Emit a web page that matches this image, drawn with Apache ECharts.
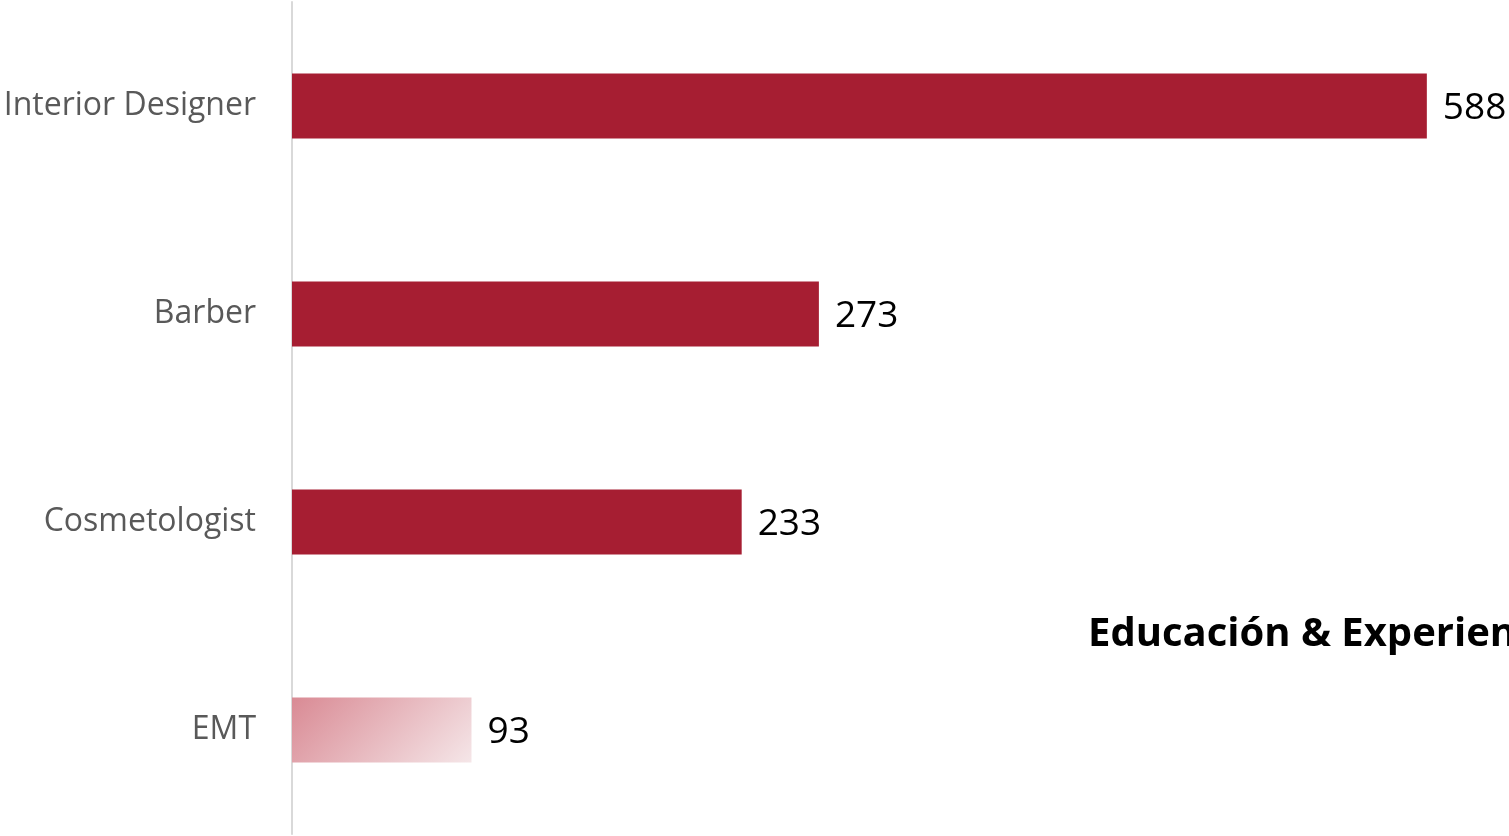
<!DOCTYPE html>
<html>
<head>
<meta charset="utf-8">
<script src="https://cdn.jsdelivr.net/npm/echarts@6/dist/echarts.min.js"></script>
<style>
html,body{margin:0;padding:0;background:#fff;}
#chart{width:1509px;height:836px;}
</style>
</head>
<body>
<div id="chart"></div>
<script>
const categories = ['Interior Designer', 'Barber', 'Cosmetologist', 'EMT'];
const values = [588, 273, 233, 93];
const titleText = 'Educación & Experiencia';

const chart = echarts.init(document.getElementById('chart'));
const barColor = '#A61E32';
const data = values.map((v, i) => {
  if (categories[i] === 'EMT') {
    return {
      value: v,
      itemStyle: {
        color: new echarts.graphic.LinearGradient(0, 0, 0.68, 1.88, [
          { offset: 0, color: '#D98A94' },
          { offset: 1, color: '#F5E6E8' }
        ])
      }
    };
  }
  return { value: v };
});

chart.setOption({
  animation: false,
  backgroundColor: '#fff',
  title: {
    text: titleText,
    left: 1083,
    top: 610,
    textStyle: { fontFamily: 'Open Sans', fontWeight: 'bold', fontSize: 40, color: '#000' }
  },
  grid: { left: 292, right: 59, top: 2, bottom: 2, containLabel: false },
  xAxis: {
    type: 'value', min: 0, max: 600,
    show: false
  },
  yAxis: {
    type: 'category',
    data: categories,
    inverse: true,
    axisLine: { show: true, lineStyle: { color: '#D9D9D9', width: 2 } },
    axisTick: { show: false },
    axisLabel: { margin: 36, color: '#595959', fontSize: 32, fontFamily: 'Open Sans' }
  },
  series: [{
    type: 'bar',
    data: data,
    barWidth: 65,
    itemStyle: { color: barColor },
    label: {
      show: true, position: 'right', distance: 16, offset: [0, 2],
      color: '#000', fontSize: 37, fontFamily: 'Open Sans'
    }
  }]
});
</script>
</body>
</html>
